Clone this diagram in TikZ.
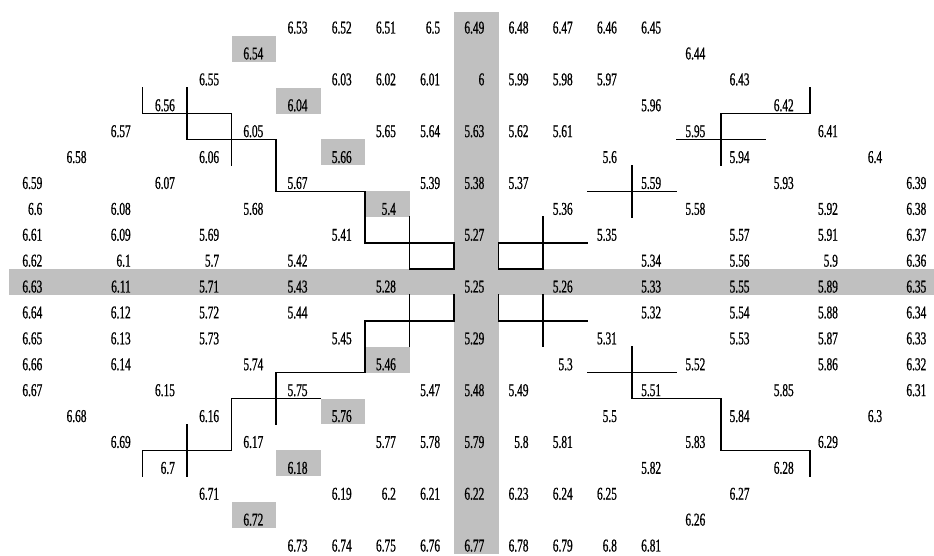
\documentclass[tikz,border=0pt]{standalone}
\usepackage{fontspec}
\newfontfamily\numfont[FakeStretch=0.63,FakeBold=0.8]{Liberation Serif}
\definecolor{cellgray}{RGB}{192,192,192}
\begin{document}
\begin{tikzpicture}[
  numlabel/.style={anchor=base east, inner sep=0pt, font=\numfont\fontsize{18}{18}\selectfont},
  gridline/.style={line width=1.4pt, line cap=rect, line join=miter, black},
  shade/.style={fill=cellgray}
]
\useasboundingbox (0,0) rectangle (934pt,-556pt);
\clip (0,0) rectangle (934pt,-556pt);
\fill[white] (0,0) rectangle (934pt,-556pt);
\begin{scope}[shift={(9pt,-10pt)}, x=44.5pt, y=-25.9pt]
  % grey bands
  \fill[shade] (0,10) rectangle (21,11);
  \fill[shade] (10,0.08) rectangle (11,21);
  % grey cells
  \foreach \co/\ro in {5/1,6/3,7/5,8/7,8/13,7/15,6/17,5/19}
    \fill[shade] (\co,\ro) rectangle (\co+1,\ro+1);
  % upper left
  \draw[gridline] (3,3) -- (3,4) -- (5,4) -- (5,6);
  \draw[gridline] (4,3) -- (4,5) -- (6,5) -- (6,7) -- (8,7) -- (8,9) -- (10,9) -- (10,10);
  \draw[gridline] (9,8) -- (9,10) -- (10,10);
  % upper right
  \draw[gridline] (18,3) -- (18,4) -- (16,4) -- (16,6);
  \draw[gridline] (15,5) -- (17,5);
  \draw[gridline] (14,6) -- (14,8);
  \draw[gridline] (13,7) -- (15,7);
  \draw[gridline] (13,9) -- (11,9) -- (11,10) -- (12,10);
  \draw[gridline] (12,8) -- (12,10);
  % lower left
  \draw[gridline] (10,11) -- (10,12) -- (8,12) -- (8,14) -- (6,14) -- (6,16);
  \draw[gridline] (9,11) -- (9,13);
  \draw[gridline] (7,15) -- (5,15) -- (5,17) -- (3,17) -- (3,18);
  \draw[gridline] (4,16) -- (4,18);
  % lower right
  \draw[gridline] (11,11) -- (11,12) -- (13,12);
  \draw[gridline] (12,11) -- (12,13);
  \draw[gridline] (14,13) -- (14,15) -- (16,15) -- (16,17) -- (18,17) -- (18,18);
  \draw[gridline] (13,14) -- (15,14);
  % numbers
  \foreach \ro/\co/\tx in {
    0/6/6.53, 0/7/6.52, 0/8/6.51, 0/9/6.5, 0/10/6.49, 0/11/6.48, 0/12/6.47, 0/13/6.46, 0/14/6.45,
    1/5/6.54, 1/15/6.44,
    2/4/6.55, 2/7/6.03, 2/8/6.02, 2/9/6.01, 2/10/6, 2/11/5.99, 2/12/5.98, 2/13/5.97, 2/16/6.43,
    3/3/6.56, 3/6/6.04, 3/14/5.96, 3/17/6.42,
    4/2/6.57, 4/5/6.05, 4/8/5.65, 4/9/5.64, 4/10/5.63, 4/11/5.62, 4/12/5.61, 4/15/5.95, 4/18/6.41,
    5/1/6.58, 5/4/6.06, 5/7/5.66, 5/13/5.6, 5/16/5.94, 5/19/6.4,
    6/0/6.59, 6/3/6.07, 6/6/5.67, 6/9/5.39, 6/10/5.38, 6/11/5.37, 6/14/5.59, 6/17/5.93, 6/20/6.39,
    7/0/6.6, 7/2/6.08, 7/5/5.68, 7/8/5.4, 7/12/5.36, 7/15/5.58, 7/18/5.92, 7/20/6.38,
    8/0/6.61, 8/2/6.09, 8/4/5.69, 8/7/5.41, 8/10/5.27, 8/13/5.35, 8/16/5.57, 8/18/5.91, 8/20/6.37,
    9/0/6.62, 9/2/6.1, 9/4/5.7, 9/6/5.42, 9/14/5.34, 9/16/5.56, 9/18/5.9, 9/20/6.36,
    10/0/6.63, 10/2/6.11, 10/4/5.71, 10/6/5.43, 10/8/5.28, 10/10/5.25, 10/12/5.26, 10/14/5.33, 10/16/5.55, 10/18/5.89, 10/20/6.35,
    11/0/6.64, 11/2/6.12, 11/4/5.72, 11/6/5.44, 11/14/5.32, 11/16/5.54, 11/18/5.88, 11/20/6.34,
    12/0/6.65, 12/2/6.13, 12/4/5.73, 12/7/5.45, 12/10/5.29, 12/13/5.31, 12/16/5.53, 12/18/5.87, 12/20/6.33,
    13/0/6.66, 13/2/6.14, 13/5/5.74, 13/8/5.46, 13/12/5.3, 13/15/5.52, 13/18/5.86, 13/20/6.32,
    14/0/6.67, 14/3/6.15, 14/6/5.75, 14/9/5.47, 14/10/5.48, 14/11/5.49, 14/14/5.51, 14/17/5.85, 14/20/6.31,
    15/1/6.68, 15/4/6.16, 15/7/5.76, 15/13/5.5, 15/16/5.84, 15/19/6.3,
    16/2/6.69, 16/5/6.17, 16/8/5.77, 16/9/5.78, 16/10/5.79, 16/11/5.8, 16/12/5.81, 16/15/5.83, 16/18/6.29,
    17/3/6.7, 17/6/6.18, 17/14/5.82, 17/17/6.28,
    18/4/6.71, 18/7/6.19, 18/8/6.2, 18/9/6.21, 18/10/6.22, 18/11/6.23, 18/12/6.24, 18/13/6.25, 18/16/6.27,
    19/5/6.72, 19/15/6.26,
    20/6/6.73, 20/7/6.74, 20/8/6.75, 20/9/6.76, 20/10/6.77, 20/11/6.78, 20/12/6.79, 20/13/6.8, 20/14/6.81}
    \node[numlabel] (n\ro-\co) at ({0.7528+0.99326*\co}, {\ro+1-0.093}) {\tx};
\end{scope}
\end{tikzpicture}
\end{document}
